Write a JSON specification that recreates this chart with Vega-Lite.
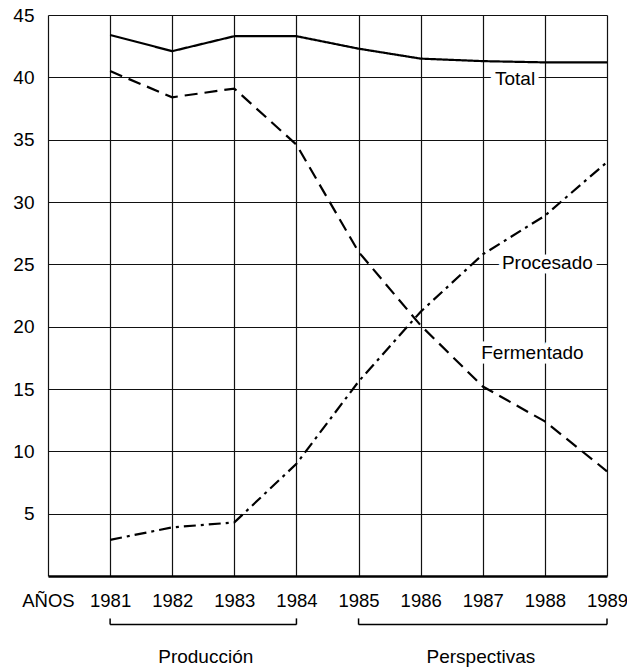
{
  "$schema": "https://vega.github.io/schema/vega-lite/v6.json",
  "width": 559,
  "height": 561,
  "autosize": {"type": "none"},
  "padding": {"left": 48, "top": 15, "right": 20, "bottom": 91},
  "background": "white",
  "config": {"font": "Liberation Sans", "view": {"stroke": null}},
  "datasets": {
    "series": [
      {"year": 1981, "serie": "Total", "value": 43.4},
      {"year": 1982, "serie": "Total", "value": 42.1},
      {"year": 1983, "serie": "Total", "value": 43.3},
      {"year": 1984, "serie": "Total", "value": 43.3},
      {"year": 1985, "serie": "Total", "value": 42.3},
      {"year": 1986, "serie": "Total", "value": 41.5},
      {"year": 1987, "serie": "Total", "value": 41.3},
      {"year": 1988, "serie": "Total", "value": 41.2},
      {"year": 1989, "serie": "Total", "value": 41.2},
      {"year": 1981, "serie": "Fermentado", "value": 40.5},
      {"year": 1982, "serie": "Fermentado", "value": 38.4},
      {"year": 1983, "serie": "Fermentado", "value": 39.1},
      {"year": 1984, "serie": "Fermentado", "value": 34.6},
      {"year": 1985, "serie": "Fermentado", "value": 26.0},
      {"year": 1986, "serie": "Fermentado", "value": 20.1},
      {"year": 1987, "serie": "Fermentado", "value": 15.2},
      {"year": 1988, "serie": "Fermentado", "value": 12.4},
      {"year": 1989, "serie": "Fermentado", "value": 8.4},
      {"year": 1981, "serie": "Procesado", "value": 2.9},
      {"year": 1982, "serie": "Procesado", "value": 3.9},
      {"year": 1983, "serie": "Procesado", "value": 4.3},
      {"year": 1984, "serie": "Procesado", "value": 9.0},
      {"year": 1985, "serie": "Procesado", "value": 15.6},
      {"year": 1986, "serie": "Procesado", "value": 21.2},
      {"year": 1987, "serie": "Procesado", "value": 25.8},
      {"year": 1988, "serie": "Procesado", "value": 28.9},
      {"year": 1989, "serie": "Procesado", "value": 33.2}
    ],
    "labels": [
      {"label": "Total", "year": 1987.52, "value": 39.9},
      {"label": "Procesado", "year": 1988.04, "value": 25.1},
      {"label": "Fermentado", "year": 1987.8, "value": 17.9}
    ],
    "periods": [
      {"label": "Producción", "start": 1981, "end": 1984, "mid": 1982.54},
      {"label": "Perspectivas", "start": 1985, "end": 1989, "mid": 1986.97}
    ]
  },
  "layer": [
    {
      "data": {"name": "series"},
      "mark": {"type": "line", "color": "black", "strokeWidth": 2.2},
      "encoding": {
        "x": {
          "field": "year", "type": "quantitative",
          "scale": {"domain": [1980, 1989], "nice": false, "zero": false},
          "axis": {
            "title": null,
            "values": [1980, 1981, 1982, 1983, 1984, 1985, 1986, 1987, 1988, 1989],
            "format": "d",
            "labelExpr": "datum.value == 1980 ? 'AÑOS' : datum.label",
            "labelFlush": false,
            "labelOverlap": false,
            "grid": true, "gridColor": "#111", "gridWidth": 1.2, "gridOpacity": 1,
            "tickSize": 0,
            "labelPadding": 15,
            "labelFontSize": 18.5,
            "labelColor": "black",
            "domainColor": "black", "domainWidth": 2.5,
            "encode": {"labels": {"update": {"dx": {"signal": "datum.value == 1989 ? -4 : (datum.value == 1980 ? -2 : 0)"}}}}
          }
        },
        "y": {
          "field": "value", "type": "quantitative",
          "scale": {"domain": [0, 45], "nice": false},
          "axis": {
            "title": null,
            "values": [5, 10, 15, 20, 25, 30, 35, 40, 45],
            "grid": true, "gridColor": "#111", "gridWidth": 1.2, "gridOpacity": 1,
            "tickSize": 0,
            "labelPadding": 14,
            "labelFontSize": 19,
            "labelColor": "black",
            "domain": false
          }
        },
        "strokeDash": {
          "field": "serie", "type": "nominal",
          "scale": {"domain": ["Total", "Fermentado", "Procesado"], "range": [[1, 0], [13, 7], [12, 5, 3, 5]]},
          "legend": null
        }
      }
    },
    {
      "data": {"name": "labels"},
      "mark": {"type": "text", "fontSize": 19, "stroke": "white", "strokeWidth": 9, "fill": "white", "align": "center", "baseline": "middle"},
      "encoding": {
        "x": {"field": "year", "type": "quantitative"},
        "y": {"field": "value", "type": "quantitative"},
        "text": {"field": "label"}
      }
    },
    {
      "data": {"name": "labels"},
      "mark": {"type": "text", "fontSize": 19, "color": "black", "align": "center", "baseline": "middle"},
      "encoding": {
        "x": {"field": "year", "type": "quantitative"},
        "y": {"field": "value", "type": "quantitative"},
        "text": {"field": "label"}
      }
    },
    {
      "data": {"name": "periods"},
      "mark": {"type": "rule", "color": "black", "strokeWidth": 1.5},
      "encoding": {
        "x": {"field": "start", "type": "quantitative"},
        "x2": {"field": "end"},
        "y": {"datum": -3.9}
      }
    },
    {
      "data": {"name": "periods"},
      "mark": {"type": "rule", "color": "black", "strokeWidth": 1.5},
      "encoding": {
        "x": {"field": "start", "type": "quantitative"},
        "y": {"datum": -3.9},
        "y2": {"datum": -3.4}
      }
    },
    {
      "data": {"name": "periods"},
      "mark": {"type": "rule", "color": "black", "strokeWidth": 1.5},
      "encoding": {
        "x": {"field": "end", "type": "quantitative"},
        "y": {"datum": -3.9},
        "y2": {"datum": -3.4}
      }
    },
    {
      "data": {"name": "periods"},
      "mark": {"type": "text", "fontSize": 19, "color": "black", "align": "center", "baseline": "middle"},
      "encoding": {
        "x": {"field": "mid", "type": "quantitative"},
        "y": {"datum": -6.5},
        "text": {"field": "label"}
      }
    }
  ]
}
